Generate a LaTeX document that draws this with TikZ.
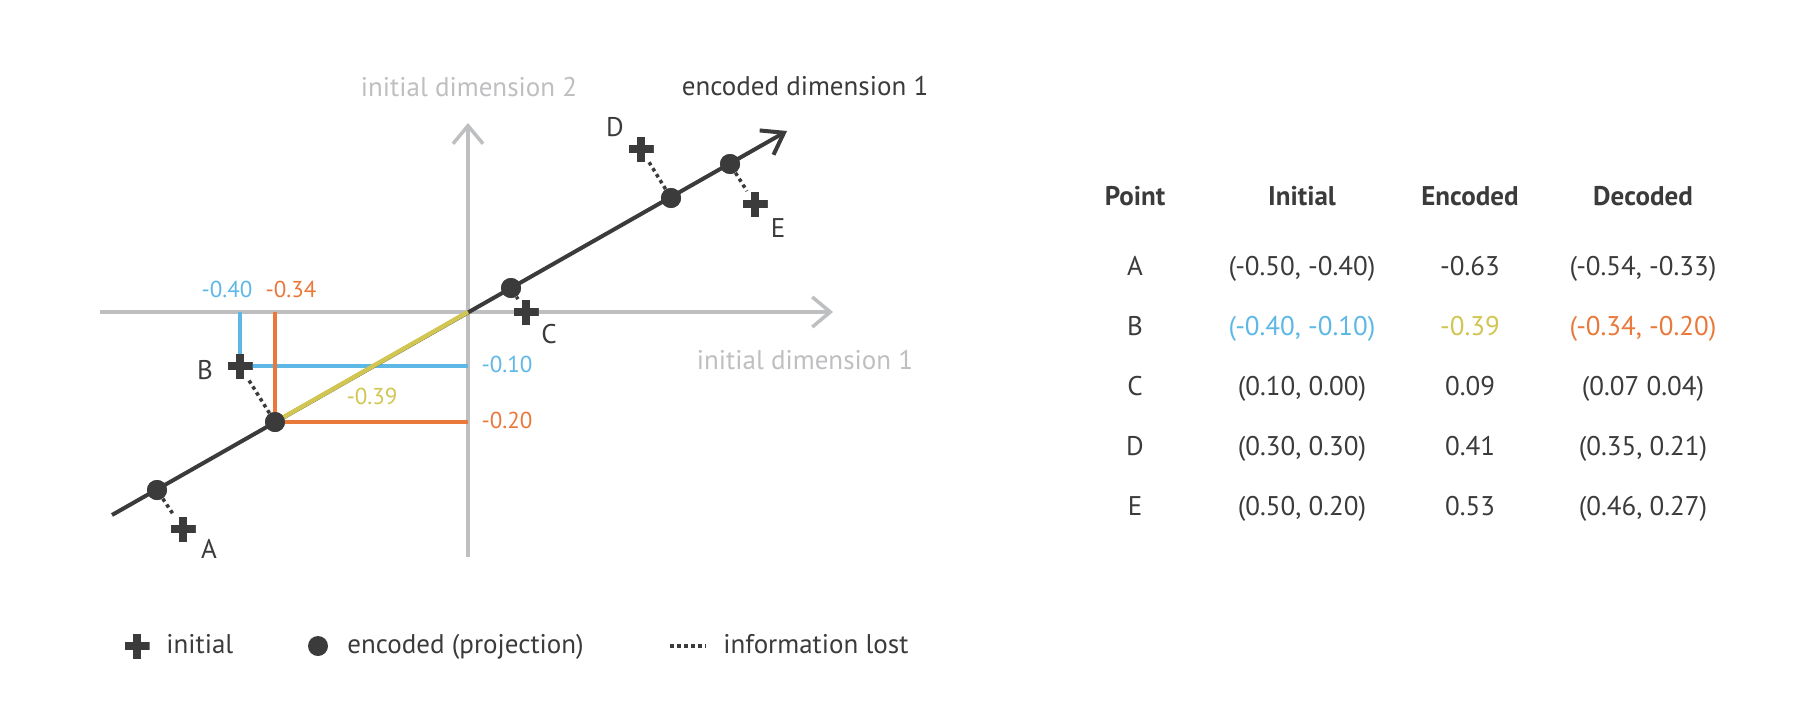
\documentclass[tikz,border=0pt]{standalone}
\usepackage{fontspec}
\setmainfont{PT Sans}
\usetikzlibrary{arrows.meta}
\definecolor{ink}{HTML}{3B3B3B}
\definecolor{axisgray}{HTML}{BEBFC1}
\definecolor{valblue}{HTML}{5DB8E6}
\definecolor{valorange}{HTML}{E8793A}
\definecolor{valyellow}{HTML}{D1C651}
\tikzset{
  mainfont/.style={font=\fontsize{13.5}{16}\selectfont},
  valfont/.style={font=\fontsize{11.5}{14}\selectfont},
  lbl/.style={mainfont, inner sep=0pt, anchor=base, text=ink},
  axlabel/.style={lbl, text=axisgray},
  vallbl/.style={valfont, inner sep=0pt, anchor=base},
  head/.style={lbl, font=\fontsize{13.5}{16}\selectfont\bfseries},
  axisline/.style={draw=axisgray, line width=1.75pt, -{Straight Barb[length=9pt,width=15pt]}},
  encline/.style={draw=ink, line width=2pt, -{Straight Barb[length=10pt,width=14pt]}},
  lost/.style={draw=ink, line width=1.75pt, dash pattern=on 1.75pt off 1.75pt},
  encpt/.style={circle, fill=ink, inner sep=0pt, minimum size=10pt},
  initpt/.style={rectangle, inner sep=0pt, minimum size=12.5pt,
    path picture={
      \fill[ink] ([xshift=-2pt]path picture bounding box.north) rectangle ([xshift=2pt]path picture bounding box.south);
      \fill[ink] ([yshift=-2pt]path picture bounding box.west) rectangle ([yshift=2pt]path picture bounding box.east);}}
}
\begin{document}
\begin{tikzpicture}[x=0.5pt,y=-0.5pt]
    \useasboundingbox[fill=white] (0,0) rectangle (1815,702);
    % axes
    \coordinate (O) at (468,312);
    \coordinate (x0) at (100,312); \coordinate (x1) at (833,312);
    \coordinate (y0) at (468,557); \coordinate (y1) at (468,123);
    \draw[axisline] (x0) -- (x1);
    \draw[axisline] (y0) -- (y1);
    \node[axlabel] (dim2) at (469,96) {initial dimension 2};
    \node[axlabel] (dim1) at (805,369) {initial dimension 1};
    \node[lbl] (edim) at (805,95) {encoded dimension 1};
    % points
    \node[encpt] (A1) at (157,490) {}; \node[initpt] (A0) at (183,529) {};
    \node[encpt] (B1) at (275,422) {}; \node[initpt] (B0) at (240,366) {};
    \node[encpt] (C1) at (511,288) {}; \node[initpt] (C0) at (526,312) {};
    \node[encpt] (D1) at (671,198) {}; \node[initpt] (D0) at (641,149) {};
    \node[encpt] (E1) at (730,164) {}; \node[initpt] (E0) at (755,204) {};
    % values for B
    \coordinate (bx) at (240,312); \coordinate (by) at (468,366);
    \coordinate (ox) at (275,312); \coordinate (oy) at (468,422);
    \draw[valblue, line width=1.7pt] (bx) |- (by);
    \draw[valorange, line width=1.7pt] (ox) |- (oy);
    % encoded axis
    \coordinate (e0) at (112,515); \coordinate (e1) at (787,131);
    \draw[encline] (e0) -- (e1);
    \draw[valyellow, line width=2.2pt] (O) -- (B1.center);
    \foreach \p in {A,B,C,D,E} \draw[lost] (\p1) -- (\p0);
    \foreach \p in {A,B,C,D,E} {\node[encpt] at (\p1) {}; \node[initpt] at (\p0) {};}
    \node[lbl] (lA) at (209,558) {A}; \node[lbl] (lB) at (205,379) {B};
    \node[lbl] (lC) at (549,343) {C}; \node[lbl] (lD) at (615,136) {D};
    \node[lbl] (lE) at (778,237) {E};
    \node[vallbl, text=valblue] (v1) at (227,297) {-0.40};
    \node[vallbl, text=valorange] (v2) at (291,297) {-0.34};
    \node[vallbl, text=valblue] (v3) at (507,372) {-0.10};
    \node[vallbl, text=valorange] (v4) at (507,428) {-0.20};
    \node[vallbl, text=valyellow] (v5) at (372,404) {-0.39};
    % legend
    \node[initpt] (lg0) at (137,646) {}; \node[lbl, anchor=base west] (lgt0) at (166,653) {initial};
    \node[encpt] (lg1) at (318,646) {}; \node[lbl, anchor=base west] (lgt1) at (347,653) {encoded (projection)};
    \coordinate (lg2) at (670,646); \coordinate (lg3) at (706,646);
    \draw[lost] (lg2) -- (lg3); \node[lbl, anchor=base west] (lgt2) at (723,653) {information lost};
    % table
    \node[head] (hP) at (1135,205) {Point}; \node[head] (hI) at (1302,205) {Initial};
    \node[head] (hE) at (1470,205) {Encoded}; \node[head] (hD) at (1643,205) {Decoded};
    \node[lbl] (tA) at (1135,275) {A}; \node[lbl] (iA) at (1302,275) {(-0.50, -0.40)};
    \node[lbl] (eA) at (1470,275) {-0.63}; \node[lbl] (dA) at (1643,275) {(-0.54, -0.33)};
    \node[lbl] (tB) at (1135,335) {B}; \node[lbl, text=valblue] (iB) at (1302,335) {(-0.40, -0.10)};
    \node[lbl, text=valyellow] (eB) at (1470,335) {-0.39}; \node[lbl, text=valorange] (dB) at (1643,335) {(-0.34, -0.20)};
    \node[lbl] (tC) at (1135,395) {C}; \node[lbl] (iC) at (1302,395) {(0.10, 0.00)};
    \node[lbl] (eC) at (1470,395) {0.09}; \node[lbl] (dC) at (1643,395) {(0.07 0.04)};
    \node[lbl] (tD) at (1135,455) {D}; \node[lbl] (iD) at (1302,455) {(0.30, 0.30)};
    \node[lbl] (eD) at (1470,455) {0.41}; \node[lbl] (dD) at (1643,455) {(0.35, 0.21)};
    \node[lbl] (tE) at (1135,515) {E}; \node[lbl] (iE) at (1302,515) {(0.50, 0.20)};
    \node[lbl] (eE) at (1470,515) {0.53}; \node[lbl] (dE) at (1643,515) {(0.46, 0.27)};
\end{tikzpicture}
\end{document}
